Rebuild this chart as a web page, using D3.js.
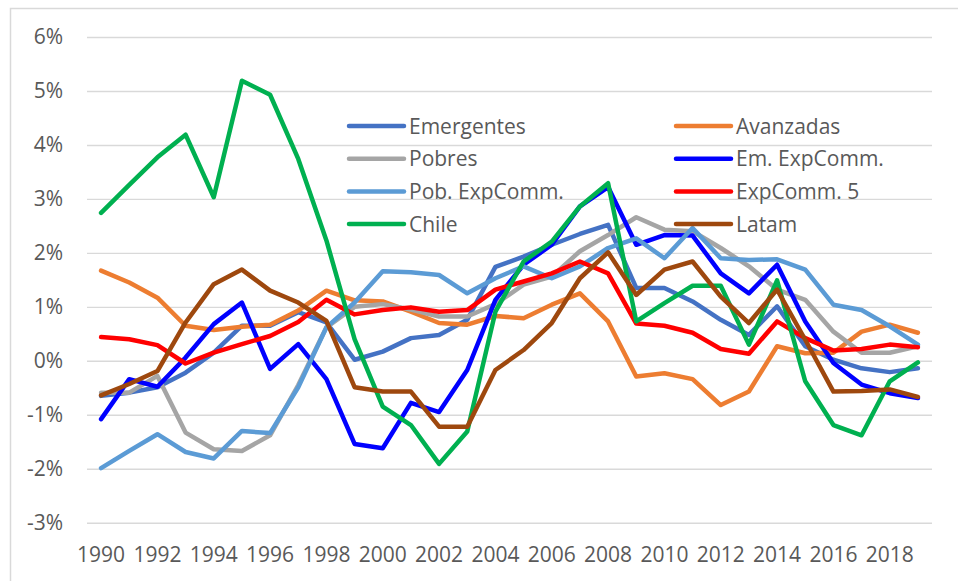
<!DOCTYPE html>
<html>
<head>
<meta charset="utf-8">
<script src="https://cdn.jsdelivr.net/npm/d3@7"></script>
<style>
  body { margin: 0; background: #fff; }
  svg { display: block; font-family: "Open Sans", sans-serif; }
  .axis text { fill: #595959; font-size: 21px; font-family: "Open Sans", sans-serif; }
  .grid line { stroke: #d9d9d9; stroke-width: 1.4; }
  .legend text { fill: #595959; font-size: 21px; }
</style>
</head>
<body>
<script>
var width = 958,
    height = 581;

// data (percent)
var years = d3.range(1990, 2020);
var xLabels = years.filter(function(y) { return y % 2 === 0; });
var yTicks = [-3, -2, -1, 0, 1, 2, 3, 4, 5, 6];

var seriesNames = ["Emergentes", "Avanzadas", "Pobres", "Em. ExpComm.",
                   "Pob. ExpComm.", "ExpComm. 5", "Chile", "Latam"];
var seriesColors = ["#4472c4", "#ed7d31", "#a5a5a5", "#0000ff",
                    "#5b9bd5", "#ff0000", "#00b050", "#9e480e"];

var emergentes = [-0.65,-0.59,-0.49,-0.22,0.15,0.65,0.65,0.90,0.71,0.02,0.17,0.42,0.48,0.76,1.74,1.93,2.15,2.35,2.52,1.35,1.35,1.10,0.76,0.48,1.01,0.27,0.02,-0.14,-0.21,-0.14];
var avanzadas = [1.67,1.45,1.17,0.65,0.57,0.63,0.67,0.93,1.30,1.12,1.10,0.91,0.70,0.67,0.83,0.79,1.04,1.25,0.73,-0.29,-0.23,-0.34,-0.82,-0.57,0.27,0.14,0.15,0.54,0.67,0.52];
var pobres = [-0.59,-0.59,-0.28,-1.33,-1.64,-1.67,-1.38,-0.45,0.62,1.00,1.05,0.95,0.82,0.82,1.05,1.41,1.56,2.03,2.33,2.66,2.43,2.40,2.09,1.75,1.32,1.13,0.54,0.15,0.15,0.27];
var emExpComm = [-1.08,-0.34,-0.48,0.06,0.68,1.08,-0.15,0.31,-0.34,-1.54,-1.62,-0.78,-0.95,-0.17,1.13,1.78,2.15,2.86,3.22,2.15,2.33,2.32,1.62,1.25,1.78,0.73,-0.04,-0.44,-0.60,-0.69];
var pobExpComm = [-1.99,-1.67,-1.36,-1.69,-1.81,-1.30,-1.34,-0.49,0.62,1.08,1.66,1.64,1.59,1.25,1.53,1.75,1.53,1.75,2.09,2.27,1.90,2.46,1.90,1.87,1.88,1.69,1.04,0.94,0.64,0.30];
var expComm5 = [0.44,0.40,0.29,-0.05,0.15,0.31,0.46,0.72,1.13,0.86,0.94,0.99,0.91,0.94,1.32,1.47,1.62,1.84,1.62,0.69,0.65,0.52,0.22,0.13,0.73,0.42,0.19,0.22,0.30,0.25];
var chile = [2.74,3.26,3.77,4.19,3.03,5.19,4.93,3.74,2.23,0.40,-0.85,-1.19,-1.91,-1.31,0.91,1.84,2.21,2.86,3.29,0.73,1.07,1.39,1.39,0.30,1.49,-0.38,-1.19,-1.38,-0.38,-0.03];
var latam = [-0.64,-0.43,-0.19,0.71,1.42,1.69,1.30,1.08,0.74,-0.49,-0.57,-0.57,-1.22,-1.22,-0.17,0.20,0.70,1.53,2.01,1.22,1.69,1.84,1.19,0.70,1.32,0.39,-0.57,-0.56,-0.53,-0.67];

var seriesValues = [emergentes, avanzadas, pobres, emExpComm,
                    pobExpComm, expComm5, chile, latam];

var plotLeft = 87, plotRight = 932, plotTop = 37, plotBottom = 522.7;

var svg = d3.select("body").append("svg")
    .attr("width", width)
    .attr("height", height);

// chart border (only left and top visible in the picture)
svg.append("rect")
    .attr("x", 10.5)
    .attr("y", 8.5)
    .attr("width", width + 20)
    .attr("height", height + 20)
    .attr("fill", "none")
    .attr("stroke", "#d9d9d9")
    .attr("stroke-width", 1.5);

var x = d3.scaleBand()
    .domain(years)
    .range([plotLeft, plotRight]);

var y = d3.scaleLinear()
    .domain([-3, 6])
    .range([plotBottom, plotTop]);

// y axis + gridlines
var yAxis = svg.append("g")
    .attr("class", "axis grid")
    .attr("transform", "translate(" + plotLeft + ",0)")
    .call(d3.axisLeft(y)
        .tickValues(yTicks)
        .tickSizeInner(-(plotRight - plotLeft))
        .tickSizeOuter(0)
        .tickPadding(24)
        .tickFormat(function(d) { return d + "%"; }));
yAxis.select(".domain").remove();

// x axis labels
var xAxis = svg.append("g")
    .attr("class", "axis")
    .attr("transform", "translate(0," + plotBottom + ")")
    .call(d3.axisBottom(x)
        .tickValues(xLabels)
        .tickSize(0)
        .tickPadding(24));
xAxis.select(".domain").remove();

// lines
var line = d3.line()
    .x(function(d, i) { return x(years[i]) + x.bandwidth() / 2; })
    .y(function(d) { return y(d); });

svg.append("g")
    .selectAll("path")
    .data(seriesValues)
    .enter()
    .append("path")
    .attr("d", line)
    .attr("fill", "none")
    .attr("stroke", function(d, i) { return seriesColors[i]; })
    .attr("stroke-width", 4.5)
    .attr("stroke-linejoin", "round")
    .attr("stroke-linecap", "round");

// legend, two columns
var legend = svg.append("g").attr("class", "legend");
var item = legend.selectAll("g")
    .data(seriesNames)
    .enter()
    .append("g")
    .attr("transform", function(d, i) {
        var col = i % 2, row = Math.floor(i / 2);
        return "translate(" + (col ? 676 : 349) + "," + (126 + row * 32.7) + ")";
    });
item.append("line")
    .attr("x1", 0)
    .attr("x2", 55)
    .attr("stroke", function(d, i) { return seriesColors[i]; })
    .attr("stroke-width", 4.5)
    .attr("stroke-linecap", "round");
item.append("text")
    .attr("x", 60)
    .attr("y", 7.5)
    .text(function(d) { return d; });
</script>
</body>
</html>
